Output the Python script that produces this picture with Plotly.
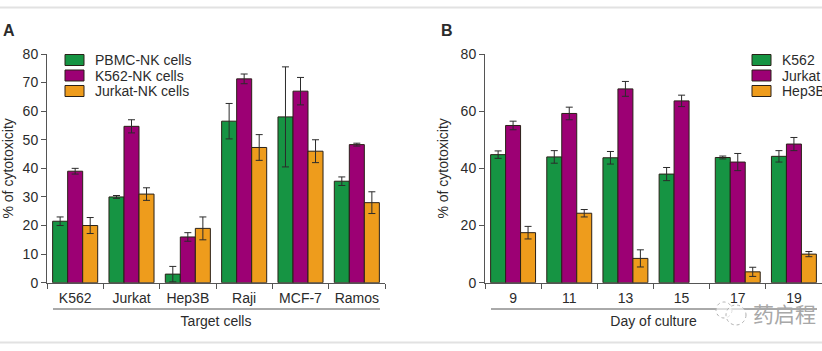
import plotly.graph_objects as go

targets = ["K562", "Jurkat", "Hep3B", "Raji", "MCF-7", "Ramos"]
pbmc_nk = [21.5, 30, 3, 56.5, 58, 35.5]
pbmc_nk_err = [1.5, 0.5, 2.7, 6.2, 17.5, 1.5]
k562_nk = [39, 54.7, 16, 71.3, 67, 48.3]
k562_nk_err = [1, 2.3, 1.5, 1.7, 4.8, 0.5]
jurkat_nk = [20, 31, 19, 47.3, 46, 28]
jurkat_nk_err = [2.8, 2.2, 4, 4.5, 4, 3.8]

days = ["9", "11", "13", "15", "17", "19"]
k562 = [44.8, 44, 43.7, 38, 43.8, 44.2]
k562_err = [1.3, 2.2, 2.2, 2.3, 0.5, 2]
jurkat = [55, 59.2, 67.8, 63.6, 42.2, 48.5]
jurkat_err = [1.5, 2.2, 2.6, 2, 3, 2.3]
hep3b = [17.5, 24.3, 8.5, None, 3.8, 10]
hep3b_err = [2.2, 1.3, 3, None, 1.6, 0.9]

GREEN, PURPLE, ORANGE = "#169443", "#9c0074", "#ee9c1c"
INK = "#2b2b2b"
EDGE = "#2a2118"
FONT = "Liberation Sans"
SIZE = 14
W, H = 822, 351

fig = go.Figure()


def add_bars(x, y, err, name, color, xa, ya):
    fig.add_trace(go.Bar(
        x=x, y=y, name=name, xaxis=xa, yaxis=ya, showlegend=False,
        marker=dict(color=color, line=dict(color=EDGE, width=1)),
        error_y=dict(type="data", array=err, visible=True, color="#2b2b2b", thickness=1, width=3.5),
    ))


for y, e, n, c in [(pbmc_nk, pbmc_nk_err, "PBMC-NK cells", GREEN),
                   (k562_nk, k562_nk_err, "K562-NK cells", PURPLE),
                   (jurkat_nk, jurkat_nk_err, "Jurkat-NK cells", ORANGE)]:
    add_bars(targets, y, e, n, c, "x", "y")
for y, e, n, c in [(k562, k562_err, "K562", GREEN),
                   (jurkat, jurkat_err, "Jurkat", PURPLE),
                   (hep3b, hep3b_err, "Hep3B", ORANGE)]:
    add_bars(days, y, e, n, c, "x2", "y2")


def xaxis(dom, title, anchor):
    return dict(
        domain=dom, anchor=anchor, type="category", range=[-0.5, 5.5], tickson="boundaries",
        ticks="outside", ticklen=5, tickcolor="#555555", tickwidth=1, ticklabelstandoff=2,
        showline=True, linecolor="#555555", linewidth=1, showgrid=False, zeroline=False,
        tickfont=dict(family=FONT, size=SIZE, color=INK),
        title=dict(text=title, standoff=11, font=dict(family=FONT, size=SIZE, color=INK)),
    )


def yaxis(dtick, xa, standoff):
    return dict(
        domain=[1 - 282.7 / H, 1 - 54 / H], anchor=xa, range=[0, 80], dtick=dtick,
        ticks="outside", ticklen=5, tickcolor="#555555", tickwidth=1,
        showline=True, linecolor="#555555", linewidth=1, showgrid=False, zeroline=False,
        tickfont=dict(family=FONT, size=SIZE, color=INK),
        title=dict(text="% of cytotoxicity", standoff=standoff,
                   font=dict(family=FONT, size=SIZE, color=INK)),
    )


shapes = []
annotations = []


def hline(x0, x1, y, color, width):
    shapes.append(dict(type="line", xref="paper", yref="paper", x0=x0 / W, x1=x1 / W,
                       y0=1 - y / H, y1=1 - y / H, line=dict(color=color, width=width)))


def text(x, y, s, size=SIZE, bold=False, color=INK, family=FONT):
    annotations.append(dict(xref="paper", yref="paper", x=x / W, y=1 - y / H,
                            text=f"<b>{s}</b>" if bold else s,
                            showarrow=False, xanchor="left", yanchor="middle",
                            font=dict(family=family, size=size, color=color)))


def legend(x, names):
    for (n, c), yc in zip(names, [60, 75.5, 91]):
        shapes.append(dict(type="rect", xref="paper", yref="paper", x0=x / W, x1=(x + 19) / W,
                           y0=1 - (yc + 5.5) / H, y1=1 - (yc - 5.5) / H,
                           fillcolor=c, line=dict(color=EDGE, width=1)))
        text(x + 27.5, yc, n)


hline(0, W, 7.5, "#e2e2e2", 2)
hline(0, W, 342.5, "#e2e2e2", 2)
hline(53, 380, 309, "#555555", 1)
hline(491, 817, 309, "#555555", 1)
legend(65, [("PBMC-NK cells", GREEN), ("K562-NK cells", PURPLE), ("Jurkat-NK cells", ORANGE)])
legend(752, [("K562", GREEN), ("Jurkat", PURPLE), ("Hep3B", ORANGE)])
text(0.5, 30, "A", size=16, bold=True)
text(439, 30, "B", size=16, bold=True)

# watermark
for cx, cy, r in [(724, 310, 8), (736, 315, 10)]:
    shapes.append(dict(type="circle", xref="paper", yref="paper",
                       x0=(cx - r) / W, x1=(cx + r) / W, y0=1 - (cy + r) / H, y1=1 - (cy - r) / H,
                       line=dict(color="#b0b0b0", width=1, dash="dot"), fillcolor="rgba(255,255,255,0.6)"))
text(751, 313, "药启程", size=21, color="#a8a8a8", family="Noto Sans CJK SC")

fig.update_layout(
    width=W, height=H, margin=dict(l=0, r=0, t=0, b=0, autoexpand=False),
    paper_bgcolor="white", plot_bgcolor="white",
    barmode="group", bargap=0.2, bargroupgap=0,
    xaxis=xaxis([47 / W, 385 / W], "Target cells", "y"),
    yaxis=yaxis(10, "x", 12),
    xaxis2=xaxis([485 / W, 1], "Day of culture", "y2"),
    yaxis2=yaxis(20, "x2", 8),
    shapes=shapes, annotations=annotations,
)

fig.write_html("out.html", config={"displayModeBar": False},
               post_script="document.body.style.margin='0';document.body.style.overflow='hidden';")
